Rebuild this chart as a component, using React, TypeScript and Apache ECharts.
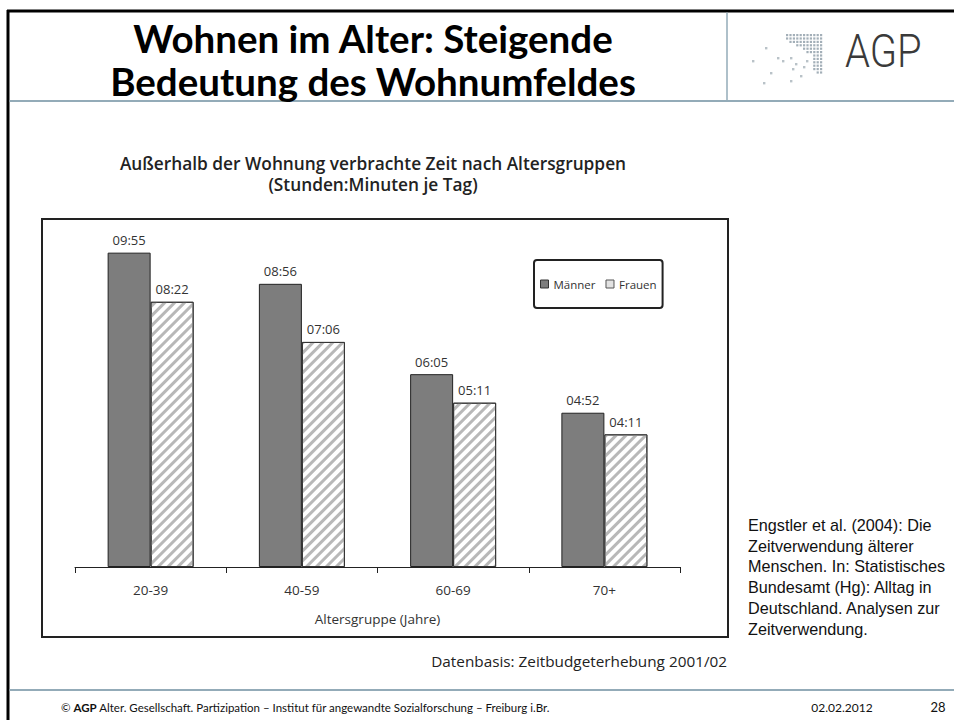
import React, { useEffect, useRef } from "react";
import * as echarts from "echarts";

// ---- data ----
const categories = ["20-39", "40-59", "60-69", "70+"];
// minutes per day spent outside the home
const maennerMinutes = [595, 536, 365, 292]; // 09:55, 08:56, 06:05, 04:52
const frauenMinutes = [502, 426, 311, 251]; // 08:22, 07:06, 05:11, 04:11
const seriesNames = ["Männer", "Frauen"];

const titleLines = ["Wohnen im Alter: Steigende", "Bedeutung des Wohnumfeldes"];
const chartTitleLines = [
  "Außerhalb der Wohnung verbrachte Zeit nach Altersgruppen",
  "(Stunden:Minuten je Tag)",
];
const xAxisName = "Altersgruppe (Jahre)";
const sourceNote = "Datenbasis: Zeitbudgeterhebung 2001/02";
const referenceLines = [
  "Engstler et al. (2004): Die",
  "Zeitverwendung älterer",
  "Menschen. In: Statistisches",
  "Bundesamt (Hg): Alltag in",
  "Deutschland. Analysen zur",
  "Zeitverwendung.",
];
const footerText = "© {b|AGP} Alter. Gesellschaft. Partizipation – Institut für angewandte Sozialforschung – Freiburg i.Br.";
const footerDate = "02.02.2012";
const footerPage = "28";

const pad = (n: number) => (n < 10 ? "0" + n : "" + n);
const fmt = (v: number) => pad(Math.floor(v / 60)) + ":" + pad(v % 60);

const CHART_FONT = "'Open Sans', 'Noto Sans', sans-serif";
const SLIDE_FONT = "Lato, 'Open Sans', sans-serif";
const BLUE = "#93abb8";

function logoElements() {
  const els: any[] = [];
  const dot = "#a3afb8";
  const x0 = 786;
  const y0 = 34;
  const step = 3.4;
  const rows: [number, number][] = [
    [0, 10], [0, 10], [1, 10], [3, 10], [5, 10], [6, 10],
    [8, 10], [8, 10], [8, 10], [8, 10], [8, 10], [9, 10],
  ];
  rows.forEach(([a, b], r) => {
    for (let c = a; c <= b; c++) {
      els.push({
        type: "rect",
        shape: { x: x0 + c * step, y: y0 + r * step, width: 2.2, height: 2.2 },
        style: { fill: dot },
        silent: true,
      });
    }
  });
  const scattered = [
    [765, 47], [752, 60], [777, 57], [782, 60], [790, 57], [795, 63],
    [770, 72], [792, 68], [800, 75], [763, 82], [790, 80], [806, 60], [803, 66],
  ];
  scattered.forEach(([x, y]) => {
    els.push({
      type: "rect",
      shape: { x, y, width: 2.4, height: 2.4 },
      style: { fill: "#b9c2c8" },
      silent: true,
    });
  });
  return els;
}

export default function App() {
  const ref = useRef<HTMLDivElement>(null);

  useEffect(() => {
    if (!ref.current) return;
    const chart = echarts.init(ref.current, null, { renderer: "svg" });

    const labelCommon = {
      show: true,
      position: "top",
      distance: 6,
      fontSize: 13,
      color: "#333",
      fontFamily: CHART_FONT,
      formatter: (p: any) => fmt(p.value),
    };

    const graphic: any[] = [
      // slide frame
      { type: "line", shape: { x1: 7, y1: 11, x2: 954, y2: 11 }, style: { stroke: "#000", lineWidth: 3 }, silent: true },
      { type: "line", shape: { x1: 8, y1: 10, x2: 8, y2: 720 }, style: { stroke: "#000", lineWidth: 3 }, silent: true },
      { type: "line", shape: { x1: 9.5, y1: 101, x2: 954, y2: 101 }, style: { stroke: BLUE, lineWidth: 2 }, silent: true },
      { type: "line", shape: { x1: 727, y1: 12.5, x2: 727, y2: 101 }, style: { stroke: BLUE, lineWidth: 1.5 }, silent: true },
      { type: "line", shape: { x1: 9.5, y1: 690, x2: 954, y2: 690 }, style: { stroke: BLUE, lineWidth: 2 }, silent: true },
      // main title
      {
        type: "text", x: 373, y: 38,
        style: { text: titleLines[0], fontSize: 38.5, fontWeight: "bold", fontFamily: SLIDE_FONT, fill: "#000", textAlign: "center", textVerticalAlign: "middle" },
      },
      {
        type: "text", x: 373, y: 81,
        style: { text: titleLines[1], fontSize: 38.5, fontWeight: "bold", fontFamily: SLIDE_FONT, fill: "#000", textAlign: "center", textVerticalAlign: "middle" },
      },
      // logo
      ...logoElements(),
      {
        type: "text", x: 845, y: 51, scaleX: 0.85,
        style: { text: "AGP", fontSize: 47, fontWeight: 300, fontFamily: "Roboto, 'Open Sans', sans-serif", fill: "#3a3a3a", textAlign: "left", textVerticalAlign: "middle" },
      },
      // chart titles
      {
        type: "text", x: 373, y: 163,
        style: { text: chartTitleLines[0], fontSize: 17.3, fontWeight: 600, fontFamily: CHART_FONT, fill: "#222", textAlign: "center", textVerticalAlign: "middle" },
      },
      {
        type: "text", x: 373, y: 184,
        style: { text: chartTitleLines[1], fontSize: 17.3, fontWeight: 600, fontFamily: CHART_FONT, fill: "#222", textAlign: "center", textVerticalAlign: "middle" },
      },
      // chart box
      {
        type: "rect", shape: { x: 42, y: 219, width: 686, height: 418 },
        style: { fill: "none", stroke: "#222", lineWidth: 2 }, silent: true, z: -1,
      },
      // source note
      {
        type: "text", x: 727, y: 661,
        style: { text: sourceNote, fontSize: 15.3, fontFamily: CHART_FONT, fill: "#222", textAlign: "right", textVerticalAlign: "middle" },
      },
      // reference text
      ...referenceLines.map((t, i) => ({
        type: "text", x: 748, y: 525 + i * 20.7,
        style: { text: t, fontSize: 16.2, fontFamily: "'Liberation Sans', Arial, sans-serif", fill: "#111", textAlign: "left", textVerticalAlign: "middle" },
      })),
      // footer
      {
        type: "text", x: 61, y: 707,
        style: {
          text: footerText, fontSize: 11.5, fontFamily: SLIDE_FONT, fill: "#111", textAlign: "left", textVerticalAlign: "middle",
          rich: { b: { fontSize: 11.5, fontWeight: "bold", fontFamily: SLIDE_FONT, fill: "#111" } },
        },
      },
      {
        type: "text", x: 842, y: 707,
        style: { text: footerDate, fontSize: 12, fontFamily: SLIDE_FONT, fill: "#111", textAlign: "center", textVerticalAlign: "middle" },
      },
      {
        type: "text", x: 938, y: 707,
        style: { text: footerPage, fontSize: 13, fontFamily: SLIDE_FONT, fill: "#111", textAlign: "center", textVerticalAlign: "middle" },
      },
    ];

    chart.setOption({
      animation: false,
      backgroundColor: "#fff",
      grid: { left: 75, right: 274, top: 250, bottom: 153, containLabel: false },
      legend: {
        left: 534,
        top: 260,
        orient: "horizontal",
        borderColor: "#222",
        borderWidth: 2,
        borderRadius: 3,
        padding: [18, 6, 18, 6],
        itemWidth: 8,
        itemHeight: 8,
        itemGap: 10,
        icon: "rect",
        textStyle: { fontSize: 11.5, color: "#333", fontFamily: CHART_FONT },
        data: [
          { name: seriesNames[0], itemStyle: { color: "#7d7d7d", borderColor: "#333", borderWidth: 1 } },
          { name: seriesNames[1], itemStyle: { color: "#e2e2e2", borderColor: "#555", borderWidth: 1, decal: "none" } },
        ],
      },
      xAxis: {
        type: "category",
        data: categories,
        axisLine: { lineStyle: { color: "#222", width: 1 } },
        axisTick: { show: true, length: 6, lineStyle: { color: "#222" } },
        axisLabel: { fontSize: 13.5, color: "#333", margin: 16, fontFamily: CHART_FONT },
        name: xAxisName,
        nameLocation: "middle",
        nameGap: 45,
        nameTextStyle: { fontSize: 13.5, color: "#333", fontFamily: CHART_FONT },
      },
      yAxis: { type: "value", min: 0, max: 600, show: false, splitLine: { show: false } },
      series: [
        {
          name: seriesNames[0],
          type: "bar",
          data: maennerMinutes,
          barWidth: 43,
          barGap: "0%",
          itemStyle: { color: "#7d7d7d", borderColor: "#222", borderWidth: 1 },
          label: labelCommon,
        },
        {
          name: seriesNames[1],
          type: "bar",
          data: frauenMinutes,
          barWidth: 43,
          barGap: "0%",
          itemStyle: {
            color: "#fff",
            borderColor: "#333",
            borderWidth: 1,
            decal: {
              symbol: "rect",
              symbolSize: 1,
              dashArrayX: [1, 0],
              dashArrayY: [3, 4],
              rotation: -Math.PI / 4,
              color: "#b8b8b8",
            },
          },
          label: labelCommon,
        },
      ],
      graphic,
    });

    return () => chart.dispose();
  }, []);

  return (
    <div style={{ position: "fixed", left: 0, top: 0, width: 954, height: 720, background: "#fff" }}>
      <div ref={ref} style={{ width: 954, height: 720 }} />
    </div>
  );
}
